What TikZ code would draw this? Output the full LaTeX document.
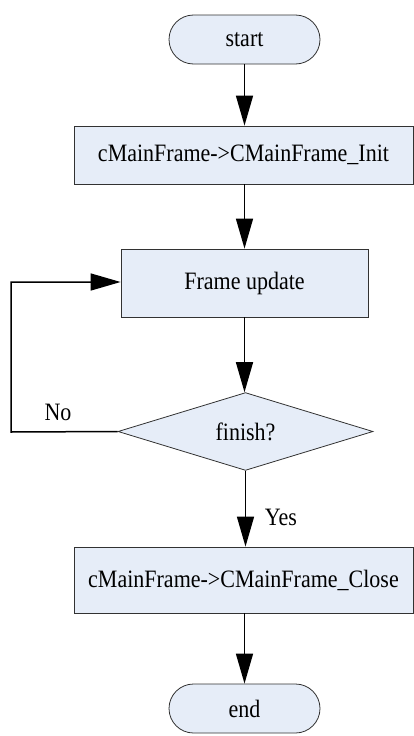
\documentclass[tikz,border=0pt]{standalone}
\usepackage{fontspec}
\setmainfont{LiberationSerif}[Extension=.ttf,UprightFont=*-Regular,BoldFont=*-Bold,ItalicFont=*-Italic,BoldItalicFont=*-BoldItalic]
\usetikzlibrary{arrows.meta,shapes.geometric}
\definecolor{boxfill}{RGB}{230,237,248}
\definecolor{boxline}{RGB}{50,50,50}
\newcommand{\narrowtext}[1]{\scalebox{0.88}[1]{#1}}
\begin{document}
\begin{tikzpicture}[x=1pt,y=-1pt,
  every node/.style={font=\fontsize{25}{28}\selectfont},
  term/.style={draw=boxline,fill=boxfill,line width=0.8pt,rounded corners=24.5pt,minimum width=151pt,minimum height=49pt,inner sep=0pt},
  proc/.style={draw=boxline,fill=boxfill,line width=0.8pt,inner sep=0pt},
  decide/.style={draw=boxline,fill=boxfill,line width=0.8pt,diamond,minimum width=255pt,minimum height=75pt,inner sep=0pt},
  flow/.style={line width=1.5pt,-{Triangle[length=30pt,width=17pt]}},
  lbl/.style={inner sep=0pt}]
\useasboundingbox (0,0) rectangle (414,736);
\node[term] (start) at (244.5,39.5) {\narrowtext{start}};
\node[proc,minimum width=339pt,minimum height=58pt] (init) at (243.5,155) {\narrowtext{cMainFrame->CMainFrame\_Init}};
\node[proc,minimum width=247pt,minimum height=68pt] (upd) at (244.5,283) {\narrowtext{Frame update}};
\node[decide] (fin) at (245.5,431.5) {\narrowtext{finish?}};
\node[proc,minimum width=339pt,minimum height=66pt] (close) at (243.5,580) {\narrowtext{cMainFrame->CMainFrame\_Close}};
\node[term] (end) at (244.5,708.5) {\narrowtext{end}};
\node[lbl] (no) at (58,412) {\narrowtext{No}};
\node[lbl] (yes) at (281,517) {\narrowtext{Yes}};
\coordinate (lb) at (11,432);
\coordinate (lt) at (11,282);
\draw[flow] (start.south) -- (start.south |- init.north);
\draw[flow] (init.south -| upd.north) -- (upd.north);
\draw[flow] (upd.south) -- (upd.south |- fin.north);
\draw[flow] (fin.south) -- (fin.south |- close.north);
\draw[flow] (close.south -| end.north) -- (end.north);
\draw[flow] (fin.west) -- (lb) -- (lt) -- (upd.west |- lt);
\end{tikzpicture}
\end{document}
